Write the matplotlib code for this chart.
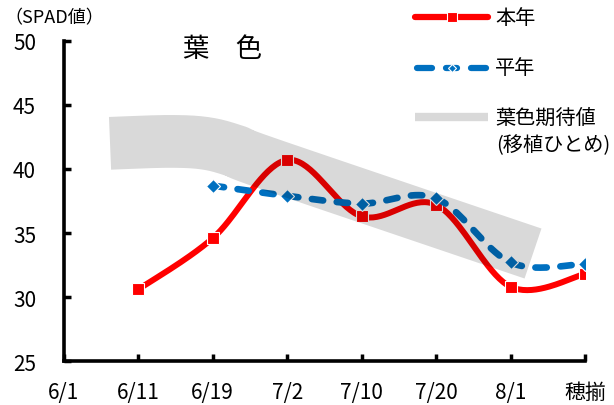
import numpy as np
import matplotlib.pyplot as plt
from matplotlib.lines import Line2D

plt.rcParams['font.family'] = ['Noto Sans CJK JP', 'DejaVu Sans']

# x axis categories
dates = ['6/1', '6/11', '6/19', '7/2', '7/10', '7/20', '8/1', '穂揃']

# 本年 (this year), positions 1..7
this_x = [1, 2, 3, 4, 5, 6, 7]
this_y = [30.6, 34.6, 40.7, 36.3, 37.2, 30.8, 31.8]

# 平年 (average year), positions 2..7
avg_x = [2, 3, 4, 5, 6, 7]
avg_y = [38.7, 37.9, 37.3, 37.7, 32.7, 32.6]

# 葉色期待値 band centre line
band_x = [0.62, 1.4, 1.9, 2.3, 2.8, 6.3]
band_y = [42.0, 42.15, 42.0, 41.4, 40.3, 33.4]


def smooth(x, y, n=40):
    # excel-like smoothed line (bezier through the points)
    pts = np.column_stack([x, y]).astype(float)
    out = [pts[0]]
    for i in range(len(pts) - 1):
        p0 = pts[i - 1] if i > 0 else pts[i]
        p1 = pts[i]
        p2 = pts[i + 1]
        p3 = pts[i + 2] if i + 2 < len(pts) else pts[i + 1]
        c1 = p1 + (p2 - p0) / 6
        c2 = p2 - (p3 - p1) / 6
        t = np.linspace(0, 1, n)[1:, None]
        seg = (1 - t) ** 3 * p1 + 3 * (1 - t) ** 2 * t * c1 + 3 * (1 - t) * t ** 2 * c2 + t ** 3 * p2
        out.extend(seg)
    return np.array(out)


fig = plt.figure(figsize=(6.14, 4.06), dpi=100)
ax = fig.add_axes([0.104, 0.108, 0.849, 0.789])

red = '#ff0000'
blue = '#0070c0'

s = smooth(this_x, this_y)
ax.plot(s[:, 0], s[:, 1], color=red, lw=4.3, solid_capstyle='round', zorder=2)
ax.plot(this_x, this_y, ls='none', marker='s', ms=8.5, mfc=red, mec='white', mew=0.8, zorder=3)

s = smooth(avg_x, avg_y)
ax.plot(s[:, 0], s[:, 1], color=blue, lw=4.8, dashes=(1.7, 2.05), dash_capstyle='round', zorder=4)
ax.plot(avg_x, avg_y, ls='none', marker='D', ms=7.5, mfc=blue, mec='white', mew=0.8, zorder=4)

s = smooth(band_x, band_y)
ax.plot(s[:, 0], s[:, 1], color='black', alpha=0.15, lw=38, solid_capstyle='butt',
        solid_joinstyle='round', zorder=5)

ax.set_xlim(0, 7)
ax.set_ylim(25, 50)
ax.set_xticks(range(len(dates)))
ax.set_xticklabels(dates)
ax.set_yticks(range(25, 51, 5))
ax.tick_params(direction='in', length=5, width=2.5, labelsize=15)
ax.tick_params(axis='y', pad=20)
ax.tick_params(axis='x', pad=14)
for side in ['top', 'right']:
    ax.spines[side].set_visible(False)
for side in ['left', 'bottom']:
    ax.spines[side].set_linewidth(2.6)

fig.text(0.008, 0.955, '（SPAD値）', fontsize=13, va='center', ha='left')
fig.text(0.298, 0.877, '葉　色', fontsize=19, va='center', ha='left')

# hand made legend
def fx(px):
    return px / 614


def fy(py):
    return 1 - py / 406


fig.add_artist(Line2D([fx(415), fx(488)], [fy(18), fy(18)], color=red, lw=4.5,
                      solid_capstyle='round'))
fig.add_artist(Line2D([fx(451.5)], [fy(18)], marker='s', ms=7, mfc=red, mec='white', mew=0.8))
for a, b in [(417, 432), (446, 457), (471, 486)]:
    fig.add_artist(Line2D([fx(a), fx(b)], [fy(69), fy(69)], color=blue, lw=4.5,
                          solid_capstyle='round'))
fig.add_artist(Line2D([fx(451.5)], [fy(69)], marker='D', ms=4.5, mfc=blue, mec='white', mew=0.8))
fig.add_artist(Line2D([fx(415), fx(488)], [fy(118), fy(118)], color='#d9d9d9', lw=6,
                      solid_capstyle='butt'))
fig.text(fx(495), fy(18), '本年', fontsize=14.5, va='center', ha='left')
fig.text(fx(495), fy(69), '平年', fontsize=14.5, va='center', ha='left')
fig.text(fx(495), fy(118), '葉色期待値', fontsize=14.5, va='center', ha='left')
fig.text(fx(496), fy(146), '(移植ひとめ)', fontsize=14.5, va='center', ha='left')

fig.savefig('out.png', dpi=100)
